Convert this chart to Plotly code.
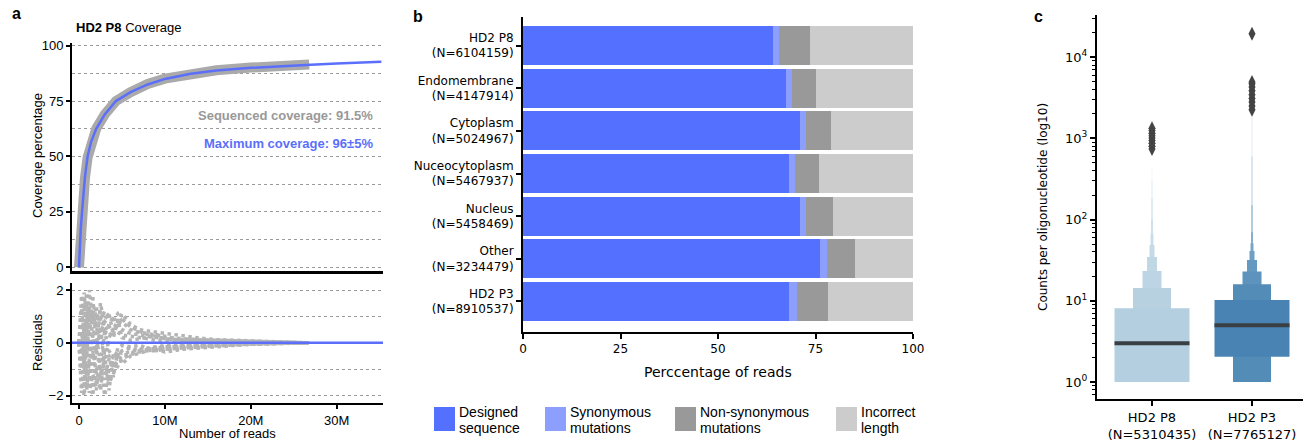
import plotly.graph_objects as go

W, H = 1307, 443

# ---------------- data ----------------
# panel a: coverage (x in millions of reads)
fit_x = [0, 0.1, 0.2, 0.35, 0.5, 0.7, 1.0, 1.4, 2.0, 3.0, 4.3, 6, 8, 10, 13, 16, 20, 24, 27, 30, 35.2]
fit_y = [0, 10, 17, 25, 33, 41, 50, 56.5, 62.5, 69, 75, 79, 82.5, 85, 87.3, 88.8, 90, 90.9, 91.4, 91.9, 92.7]
seq_x = [0, 0.1, 0.2, 0.35, 0.5, 0.7, 1.0, 1.4, 2.0, 3.0, 4.3, 6, 8, 10, 13, 16, 20, 24, 26.8]
seq_y = [0, 9, 16, 24.5, 32.5, 40.5, 49.5, 56.5, 62.5, 69, 75, 79, 82.7, 85.1, 87.4, 88.9, 90.1, 91.0, 91.5]

resid_x = [0, 0.3, 0.6, 0.9, 1.2, 1.6, 2.0, 2.5, 3.0, 3.5, 4.0, 4.5, 5, 6, 7, 8, 9, 10, 12, 14, 16, 18, 20, 23, 26.7]
resid_1 = [0, 1.8, 1.2, 1.9, 0.8, 1.5, 1.0, 0.9, 1.2, 1.0, 0.9, 1.1, 0.8, 0.5, 0.4, 0.35, 0.3, 0.2, 0.15, 0.12, 0.1, 0.08, 0.06, 0.04, 0.0]
resid_2 = [0, -1.5, -2.0, -0.8, -1.9, -1.2, -1.5, -0.9, -2.0, -1.0, -0.8, -0.9, -0.6, -0.45, -0.35, -0.3, -0.3, -0.25, -0.2, -0.15, -0.1, -0.08, -0.05, -0.03, 0.0]
resid_3 = [0, 0.9, 1.9, 0.5, 2.0, 0.7, 1.4, 0.4, 0.8, 0.6, 0.7, 0.6, 0.9, 0.6, 0.45, 0.3, 0.25, 0.15, 0.12, 0.1, 0.08, 0.06, 0.05, 0.03, 0.0]
resid_4 = [0, -0.8, -1.2, -1.8, -0.6, -2.0, -0.9, -1.4, -0.5, -1.8, -0.4, -0.5, -0.3, -0.2, -0.3, -0.25, -0.2, -0.15, -0.15, -0.1, -0.08, -0.05, -0.04, -0.02, 0.0]
resid_5 = [0, 0.4, -0.3, 1.2, -0.5, 0.3, -0.4, 0.6, -0.8, 0.2, 0.5, 0.4, 0.3, 0.25, 0.2, 0.15, 0.1, 0.1, 0.05, 0.05, 0.04, 0.03, 0.02, 0.01, 0.0]
resid_6 = [0, -0.3, 0.6, -0.5, 0.9, -0.6, 0.2, -0.7, 0.4, -0.3, -0.6, -0.3, -0.4, -0.35, -0.25, -0.2, -0.15, -0.1, -0.08, -0.06, -0.05, -0.04, -0.03, -0.02, 0.0]
resid_7 = [0, 1.3, 0.3, 0.9, 1.4, 0.2, 0.8, 1.2, 0.3, 0.7, 1.0, 0.6, 0.5, 0.35, 0.3, 0.25, 0.2, 0.15, 0.1, 0.08, 0.06, 0.05, 0.03, 0.02, 0.0]
resid_8 = [0, -1.9, -0.6, -1.3, -1.0, -1.6, -0.2, -1.1, -1.4, -0.6, -0.9, -0.7, -0.5, -0.4, -0.3, -0.25, -0.2, -0.15, -0.12, -0.1, -0.07, -0.05, -0.03, -0.02, 0.0]
resid_9 = [0, 1.0, -1.0, 1.5, 0.2, 1.8, -0.3, 1.5, 0.6, 0.4, 0.2, 0.8, 1.1, 0.7, 0.5, 0.45, 0.4, 0.35, 0.25, 0.18, 0.12, 0.1, 0.07, 0.04, 0.0]
resid_10 = [0, -1.0, 0.2, -1.6, -1.3, -0.4, -1.8, -0.4, -1.0, -1.5, -1.2, -0.4, -0.8, -0.5, -0.4, -0.3, -0.25, -0.35, -0.25, -0.2, -0.12, -0.1, -0.06, -0.03, 0.0]
resid_11 = [0, 0.2, 1.5, -0.2, 0.5, 1.2, 0.6, 0.1, 0.9, 1.1, 0.3, 0.9, 0.2, 0.1, 0.15, 0.2, 0.3, 0.25, 0.1, 0.05, 0.03, 0.02, 0.01, 0.0, 0.0]
resid_12 = [0, -0.5, -1.6, 0.3, -0.9, -0.3, -1.1, -1.8, -0.2, -0.5, -1.3, -0.2, -0.1, -0.15, -0.1, -0.2, -0.3, -0.25, -0.2, -0.12, -0.1, -0.06, -0.04, -0.02, 0.0]
residuals = [resid_1, resid_2, resid_3, resid_4, resid_5, resid_6, resid_7, resid_8,
             resid_9, resid_10, resid_11, resid_12]

x_ticks_a = [0, 10, 20, 30]
x_ticktext_a = ["0", "10M", "20M", "30M"]

# panel b: stacked percentages
b_categories = ["HD2 P8<br>(N=6104159)", "Endomembrane<br>(N=4147914)", "Cytoplasm<br>(N=5024967)",
                "Nuceocytoplasm<br>(N=5467937)", "Nucleus<br>(N=5458469)", "Other<br>(N=3234479)",
                "HD2 P3<br>(N=8910537)"]
designed = [64.1, 67.4, 71.1, 68.2, 70.9, 76.1, 68.2]
synonymous = [1.6, 1.5, 1.5, 1.5, 1.7, 1.9, 2.1]
nonsynonymous = [7.8, 6.1, 6.5, 6.1, 6.8, 7.1, 8.0]
incorrect = [26.5, 25.0, 20.9, 24.2, 20.6, 14.9, 21.7]
b_series_names = ["Designed<br>sequence", "Synonymous<br>mutations", "Non-synonymous<br>mutations", "Incorrect<br>length"]

# panel c: letter-value (boxen) levels: (lower, upper, width)
c_labels = ["HD2 P8<br>(N=5310435)", "HD2 P3<br>(N=7765127)"]
p8_lower = [1, 1, 1, 1, 1, 1, 1, 1, 1, 1]
p8_upper = [8.1, 14.4, 23.2, 34.6, 48.5, 66, 100, 180, 300, 445]
p8_width = [0.75, 0.38, 0.19, 0.10, 0.05, 0.03, 0.02, 0.012, 0.007, 0.004]
p8_median = 3.0
p8_outliers = [740, 800, 870, 940, 1010, 1080, 1160, 1250, 1330]
p3_lower = [2.05, 1, 1, 1, 1, 1, 1, 1, 1, 1]
p3_upper = [10.2, 16, 23, 31.7, 41, 51, 70, 150, 600, 2000]
p3_width = [0.75, 0.38, 0.19, 0.10, 0.05, 0.03, 0.02, 0.012, 0.007, 0.004]
p3_median = 5.0
p3_outliers = [2250, 2500, 2800, 3100, 3450, 3850, 4300, 4700, 4950, 19500]

# ---------------- styles ----------------
BLUE = "#5470ff"
LBLUE = "#8c9ffe"
DGRAY = "#999999"
LGRAY = "#cccccc"
b_colors = [BLUE, LBLUE, DGRAY, LGRAY]
p8_colors = ["#b3cfe0", "#b7d1e1", "#bcd4e3", "#c0d7e4", "#c5dae6", "#cadde8", "#cfe0ea", "#d5e4ed", "#dbe8f0", "#e2ecf3"]
p3_colors = ["#4883b3", "#548cb8", "#5d93bc", "#6599c0", "#6e9fc4", "#78a6c8", "#86afcd", "#96bad4", "#a8c6db", "#bcd3e4"]

SANS = "Liberation Sans, Arial, sans-serif"
DEJA = "DejaVu Sans, sans-serif"


def dx(px):
    return px / W


def dy(py):
    return 1 - py / H


fig = go.Figure()

# ---- panel a top ----
fig.add_trace(go.Scatter(x=seq_x, y=seq_y, mode="lines", line=dict(color="#aaaaaa", width=10),
                         xaxis="x", yaxis="y", showlegend=False, hoverinfo="skip"))
fig.add_trace(go.Scatter(x=fit_x, y=fit_y, mode="lines", line=dict(color="#5b6ffa", width=2.5),
                         xaxis="x", yaxis="y", showlegend=False))

# ---- panel a residuals ----
for r in residuals:
    fig.add_trace(go.Scatter(x=resid_x, y=r, mode="lines", line=dict(color="#b4b4b4", width=3.5, dash="dot"),
                             xaxis="x2", yaxis="y2", showlegend=False, hoverinfo="skip"))
fig.add_shape(type="line", xref="x2 domain", yref="y2", x0=0, x1=1, y0=0, y1=0,
              line=dict(color="#5b6ffa", width=2.5))

# ---- panel b ----
for name, vals, col in zip(b_series_names, [designed, synonymous, nonsynonymous, incorrect], b_colors):
    fig.add_trace(go.Bar(x=vals, y=b_categories, orientation="h", name=name, width=0.914,
                         marker=dict(color=col, line=dict(width=0)), xaxis="x3", yaxis="y3", showlegend=False))

# ---- panel c ----
def boxen(xc, lowers, uppers, widths, colors):
    order = list(range(len(lowers)))[::-1]  # narrow first, widest last
    for i in order:
        w = widths[i] / 2
        fig.add_trace(go.Scatter(
            x=[xc - w, xc + w, xc + w, xc - w, xc - w],
            y=[lowers[i], lowers[i], uppers[i], uppers[i], lowers[i]],
            mode="lines", fill="toself", fillcolor=colors[i], line=dict(width=0, color=colors[i]),
            xaxis="x4", yaxis="y4", showlegend=False, hoverinfo="skip"))


boxen(0, p8_lower, p8_upper, p8_width, p8_colors)
boxen(1, p3_lower, p3_upper, p3_width, p3_colors)
for xc, med, w in [(0, p8_median, p8_width[0]), (1, p3_median, p3_width[0])]:
    fig.add_trace(go.Scatter(x=[xc - w / 2, xc + w / 2], y=[med, med], mode="lines",
                             line=dict(color="#3a3f44", width=4), xaxis="x4", yaxis="y4", showlegend=False))
fig.add_trace(go.Scatter(x=[0] * len(p8_outliers) + [1] * len(p3_outliers), y=p8_outliers + p3_outliers,
                         mode="markers", marker=dict(symbol="diamond-tall", size=10, color="#444444"),
                         xaxis="x4", yaxis="y4", showlegend=False))

# ---------------- layout ----------------
axis_common = dict(showline=True, linecolor="black", linewidth=2, ticks="outside", tickcolor="black",
                   tickwidth=2, zeroline=False, automargin=False)
grid = dict(showgrid=True, gridcolor="#9a9a9a", gridwidth=1, griddash="dot")

minor_c = [m * 10 ** k for k in range(0, 5) for m in range(2, 10) if m * 10 ** k < 33000] + [0.7, 0.8, 0.9]

fig.update_layout(
    width=W, height=H, margin=dict(l=0, r=0, t=0, b=0, autoexpand=False),
    paper_bgcolor="white", plot_bgcolor="white", barmode="stack",
    font=dict(family=SANS, size=13, color="black"),
    xaxis=dict(domain=[dx(72), dx(383)], range=[-0.815, 35.39], anchor="y", showticklabels=False,
               showline=True, linecolor="black", linewidth=2.5, ticks="", showgrid=False, zeroline=False,
               automargin=False),
    yaxis=dict(domain=[dy(271), dy(43)], range=[-1.67, 101.2], anchor="x", tickvals=[0, 25, 50, 75, 100],
               ticklen=4, tickfont=dict(family=SANS, size=13),
               minor=dict(tickvals=[12.5, 37.5, 62.5, 87.5], ticks="", showgrid=True, gridcolor="#9a9a9a",
                          griddash="dot", gridwidth=1),
               **axis_common, **grid),
    xaxis2=dict(domain=[dx(72), dx(383)], range=[-0.815, 35.39], anchor="y2", tickvals=x_ticks_a,
                ticktext=x_ticktext_a, ticklen=4, tickfont=dict(family=SANS, size=13), showgrid=False,
                **axis_common),
    yaxis2=dict(domain=[dy(403), dy(283)], range=[-2.28, 2.265], anchor="x2", tickvals=[-2, 0, 2],
                ticklen=4, tickfont=dict(family=SANS, size=13),
                minor=dict(tickvals=[-1, 1], ticks="", showgrid=True, gridcolor="#9a9a9a",
                           griddash="dot", gridwidth=1),
                **axis_common, **grid),
    xaxis3=dict(domain=[dx(523), dx(913)], range=[0, 100], anchor="y3", tickvals=[0, 25, 50, 75, 100],
                ticklen=5, tickfont=dict(family=DEJA, size=12), showgrid=False, **axis_common),
    yaxis3=dict(domain=[dy(332), dy(17)], range=[6.715, -0.668], anchor="x3", type="category",
                ticklen=5, tickfont=dict(family=DEJA, size=12), showgrid=False, **axis_common),
    xaxis4=dict(domain=[dx(1097), dx(1303)], range=[-0.55, 1.51], anchor="y4", tickvals=[0, 1],
                ticktext=c_labels, ticklen=5, tickfont=dict(family=DEJA, size=13), showgrid=False,
                **axis_common),
    yaxis4=dict(domain=[dy(399), dy(15)], type="log", range=[-0.21, 4.52], anchor="x4",
                tickvals=[1, 10, 100, 1000, 10000],
                ticktext=["10<sup>0</sup>", "10<sup>1</sup>", "10<sup>2</sup>", "10<sup>3</sup>", "10<sup>4</sup>"],
                ticklen=5, tickfont=dict(family=DEJA, size=13), showgrid=False,
                minor=dict(tickmode="array", tickvals=minor_c, ticks="outside", ticklen=3, tickwidth=1,
                           tickcolor="black", showgrid=False),
                **axis_common),
)

ann = []


def text(px, py, s, size=13, family=SANS, color="black", xanchor="center", yanchor="middle", angle=0):
    ann.append(dict(x=dx(px), y=dy(py), xref="paper", yref="paper", text=s, showarrow=False,
                    font=dict(family=family, size=size, color=color), xanchor=xanchor, yanchor=yanchor,
                    textangle=angle))


# panel letters
text(10, 13, "<b>a</b>", size=16, xanchor="left")
text(411, 16, "<b>b</b>", size=16, xanchor="left")
text(1032, 16, "<b>c</b>", size=16, xanchor="left")

# panel a texts
text(74, 28, "<b>HD2 P8</b> Coverage", size=13, xanchor="left")
text(375, 115, "<b>Sequenced coverage: 91.5%</b>", size=13, color="#999999", xanchor="right")
text(375, 143, "<b>Maximum coverage: 96±5%</b>", size=13, color="#5b6ffa", xanchor="right")
text(37, 156, "Coverage percentage", size=13, angle=-90)
text(37, 342, "Residuals", size=13, angle=-90)
text(227, 433, "Number of reads", size=13)

# panel b texts
text(718, 372, "Perccentage of reads", size=14, family=DEJA)

# panel c axis title
text(1043, 207, "Counts per oligonucleotide (log10)", size=12, family=DEJA, angle=-90)

# legend for panel b
leg_sq_x = [434, 545, 675, 836]
leg_lines = [("Designed", "sequence"), ("Synonymous", "mutations"), ("Non-synonymous", "mutations"),
             ("Incorrect", "length")]
for sx, col, (l1, l2) in zip(leg_sq_x, b_colors, leg_lines):
    fig.add_shape(type="rect", xref="paper", yref="paper", x0=dx(sx), x1=dx(sx + 21), y0=dy(431), y1=dy(407),
                  fillcolor=col, line=dict(width=0))
    text(sx + 23, 412, l1, size=14, xanchor="left")
    text(sx + 23, 428, l2, size=14, xanchor="left")

fig.update_layout(annotations=ann)

fig.write_html("out.html", config={"displayModeBar": False},
               post_script="document.body.style.margin='0px';document.body.style.overflow='hidden';")
